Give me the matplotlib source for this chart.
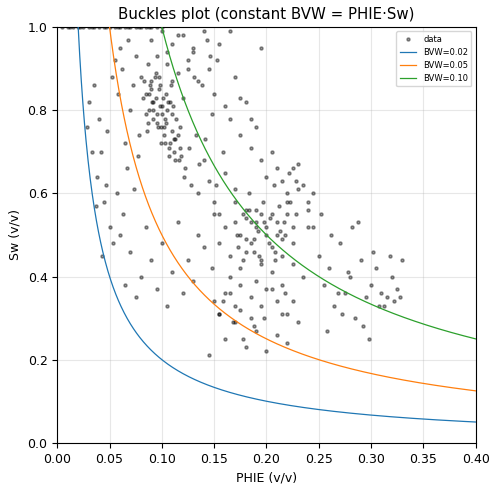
import numpy as np
import matplotlib
matplotlib.use("Agg")
import matplotlib.pyplot as plt

# data points (PHIE, Sw)
phie_top = [0.005,0.01,0.015,0.02,0.025,0.03,0.035,0.04,0.045,0.05,0.055,0.06,0.065,0.07,0.075,0.08,0.085,0.09,0.095,0.1,0.012,0.022,0.033,0.047,0.058,0.068,0.078,0.088]
sw_top = [1.0]*28
phie_a = [0.03,0.035,0.028,0.04,0.042,0.038,0.045,0.05,0.048,0.052,0.055,0.06,0.058,0.062,0.065,0.068,0.07,0.072,0.075,0.078,0.08,0.082,0.085,0.087,0.09,0.092,0.095,0.097,0.1,0.102,0.105,0.107,0.11,0.112,0.115,0.118,0.12,0.122,0.125,0.128,0.13,0.133,0.135,0.138,0.14,0.143,0.145,0.148,0.15,0.153,0.155,0.158,0.16,0.165,0.17,0.175,0.18,0.185,0.19,0.195,0.088,0.092,0.098,0.103,0.108,0.083,0.086,0.094,0.099,0.104,0.11,0.113,0.117,0.121,0.126,0.131,0.136,0.141,0.146,0.152,0.077,0.073,0.067,0.063,0.057,0.053,0.047,0.043,0.037,0.033]
sw_a = [0.82,0.86,0.76,0.78,0.70,0.64,0.58,0.52,0.75,0.88,0.92,0.95,0.84,0.90,0.72,0.97,0.80,0.86,0.93,0.74,0.88,0.83,0.79,0.91,0.85,0.82,0.77,0.88,0.81,0.76,0.94,0.71,0.87,0.73,0.98,0.69,0.83,0.66,0.90,0.62,0.95,0.74,0.60,0.86,0.68,0.97,0.63,0.79,0.58,0.92,0.55,0.70,0.65,0.99,0.61,0.83,0.56,0.78,0.53,0.95,0.84,0.80,0.86,0.78,0.82,0.87,0.75,0.89,0.72,0.84,0.79,0.68,0.76,0.64,0.71,0.88,0.67,0.73,0.93,0.62,0.69,0.61,0.66,0.55,0.60,0.48,0.62,0.45,0.57,0.70]
phie_dense1 = [0.085,0.088,0.09,0.092,0.094,0.096,0.098,0.1,0.102,0.104,0.106,0.108,0.11,0.112,0.114,0.116,0.089,0.093,0.097,0.101,0.105,0.109,0.113,0.117,0.087,0.091,0.095,0.099,0.103,0.107,0.111,0.115]
sw_dense1 = [0.84,0.80,0.87,0.78,0.83,0.76,0.81,0.79,0.74,0.77,0.82,0.72,0.75,0.70,0.78,0.68,0.86,0.88,0.85,0.83,0.80,0.86,0.73,0.71,0.77,0.82,0.79,0.76,0.72,0.69,0.81,0.74]
phie_dense2 = [0.17,0.175,0.18,0.185,0.19,0.195,0.2,0.205,0.21,0.215,0.22,0.225,0.173,0.183,0.193,0.203,0.213,0.223,0.178,0.188,0.198,0.208,0.218,0.228]
sw_dense2 = [0.53,0.50,0.54,0.48,0.52,0.55,0.50,0.47,0.53,0.49,0.55,0.52,0.47,0.56,0.45,0.54,0.51,0.58,0.44,0.49,0.53,0.46,0.50,0.63]
phie_b = [0.15,0.155,0.16,0.165,0.17,0.172,0.175,0.178,0.18,0.183,0.185,0.188,0.19,0.192,0.195,0.197,0.2,0.202,0.205,0.207,0.21,0.212,0.215,0.217,0.22,0.222,0.225,0.228,0.23,0.235,0.24,0.245,0.19,0.185,0.195,0.2,0.205,0.21,0.215,0.22,0.18,0.175,0.17,0.165,0.16,0.155,0.225,0.218,0.208,0.198,0.188,0.178,0.168,0.158,0.148,0.14,0.135,0.13,0.125,0.12,0.115,0.11,0.105,0.1,0.095,0.09,0.085,0.08,0.075,0.07,0.065,0.06]
sw_b = [0.55,0.48,0.52,0.45,0.58,0.50,0.42,0.55,0.49,0.60,0.53,0.46,0.56,0.51,0.44,0.58,0.52,0.48,0.55,0.62,0.50,0.57,0.45,0.53,0.60,0.65,0.48,0.55,0.67,0.62,0.58,0.52,0.39,0.35,0.43,0.37,0.41,0.34,0.38,0.31,0.46,0.38,0.33,0.40,0.36,0.31,0.43,0.36,0.44,0.30,0.28,0.25,0.29,0.34,0.42,0.47,0.50,0.39,0.44,0.36,0.53,0.41,0.33,0.48,0.37,0.44,0.52,0.40,0.35,0.46,0.38,0.50]
phie_c = [0.25,0.255,0.26,0.265,0.27,0.275,0.28,0.285,0.29,0.295,0.3,0.305,0.31,0.315,0.32,0.325,0.33,0.252,0.262,0.272,0.282,0.292,0.302,0.312,0.322,0.258,0.268,0.278,0.288,0.298,0.308,0.318,0.328,0.245,0.24,0.235,0.23,0.225,0.22,0.215,0.21,0.205,0.2,0.195,0.19,0.185,0.18,0.175,0.17,0.165,0.16,0.155,0.15,0.145]
sw_c = [0.45,0.38,0.42,0.33,0.48,0.36,0.40,0.30,0.44,0.35,0.38,0.42,0.36,0.35,0.40,0.37,0.44,0.55,0.50,0.31,0.52,0.28,0.46,0.33,0.34,0.27,0.36,0.41,0.53,0.25,0.33,0.45,0.35,0.60,0.52,0.40,0.29,0.34,0.24,0.31,0.26,0.37,0.22,0.33,0.27,0.30,0.23,0.32,0.29,0.36,0.25,0.31,0.34,0.21]
phie_d = [0.09,0.095,0.1,0.105,0.11,0.115,0.12,0.125,0.13,0.135,0.14,0.145,0.15,0.155,0.16,0.165,0.17,0.175,0.18,0.185,0.19,0.195,0.2,0.205,0.21,0.215,0.22,0.225,0.23,0.24]
sw_d = [0.97,0.93,0.99,0.91,0.96,0.89,0.98,0.92,0.94,0.87,0.99,0.90,0.84,0.96,0.81,0.78,0.88,0.74,0.82,0.71,0.76,0.68,0.64,0.70,0.66,0.63,0.58,0.66,0.61,0.56]

phie = np.array(phie_top + phie_a + phie_dense1 + phie_dense2 + phie_b + phie_c + phie_d)
sw = np.array(sw_top + sw_a + sw_dense1 + sw_dense2 + sw_b + sw_c + sw_d)
bvw_values = [0.02, 0.05, 0.10]

plt.rcParams['font.size'] = 9
fig, ax = plt.subplots(figsize=(4.98, 4.92), dpi=100)
ax.scatter(phie, sw, s=5, c="k", alpha=0.4, label="data", zorder=2)
x = np.linspace(0.001, 0.4, 800)
for b in bvw_values:
    ax.plot(x, b / x, lw=0.9, label=f"BVW={b:.2f}", zorder=3)
ax.set_xlim(0, 0.4)
ax.set_ylim(0, 1)
ax.grid(True, alpha=0.3)
ax.set_xlabel("PHIE (v/v)")
ax.set_ylabel("Sw (v/v)")
ax.set_title("Buckles plot (constant BVW = PHIE·Sw)", fontsize=10.8)
ax.legend(loc="upper right", fontsize=6)
fig.subplots_adjust(left=0.115, right=0.955, bottom=0.1, top=0.945)
fig.savefig("out.png")
